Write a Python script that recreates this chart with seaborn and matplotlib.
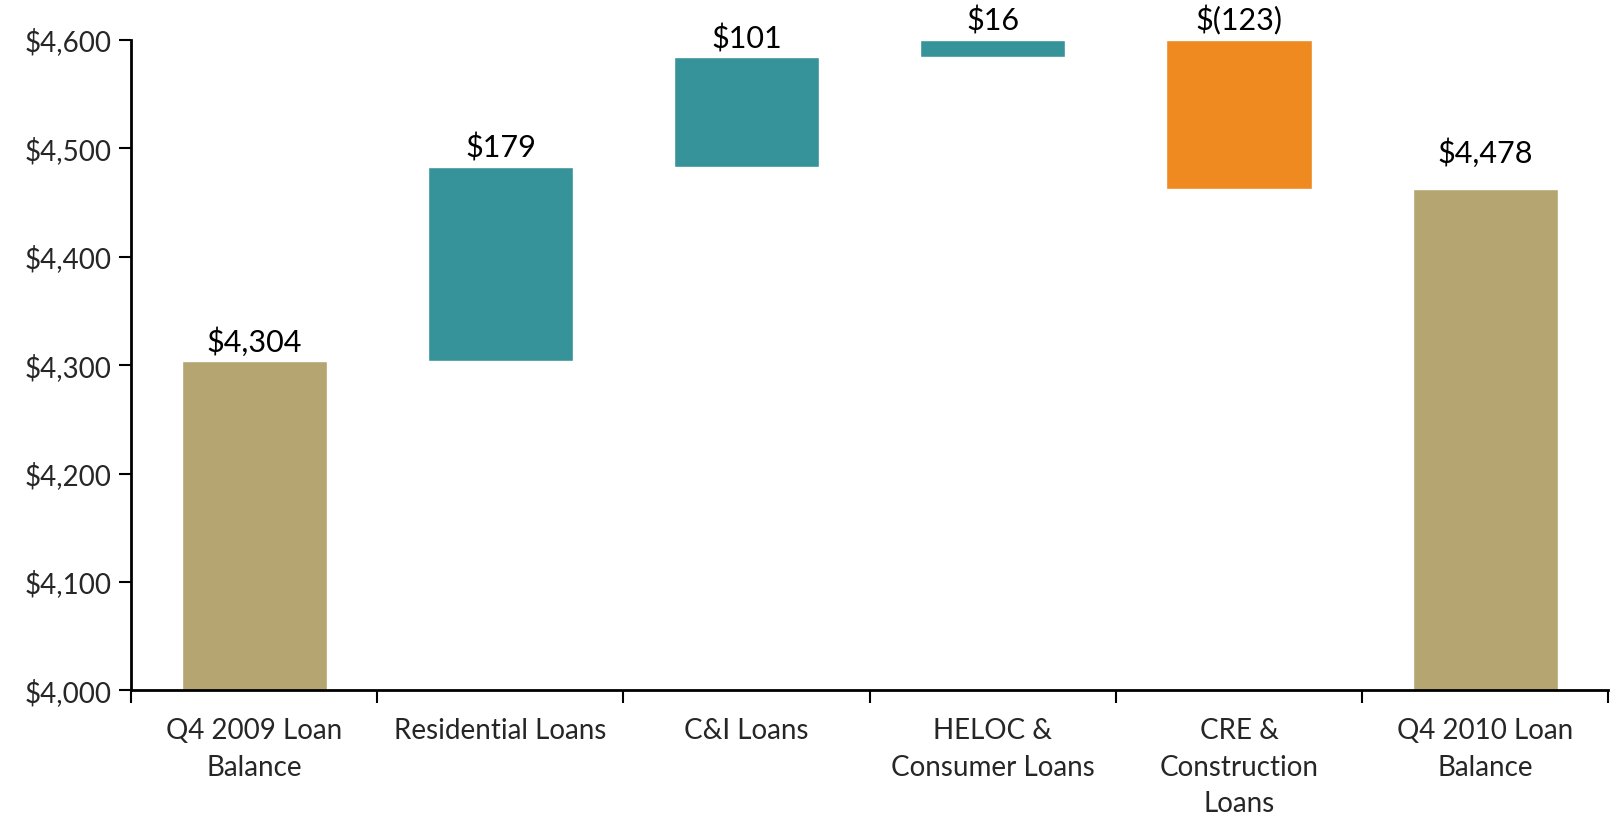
import matplotlib
matplotlib.use("Agg")
import matplotlib.pyplot as plt
import seaborn as sns
import numpy as np
import pandas as pd

categories = ["Q4 2009 Loan\nBalance", "Residential Loans", "C&I Loans",
              "HELOC &\nConsumer Loans", "CRE &\nConstruction\nLoans", "Q4 2010 Loan\nBalance"]
# bar extents as drawn in the picture (totals are absolute, others are changes)
drawn_values = [4304, 179, 101, 16, -137, 4463]
is_total = [True, False, False, False, False, True]
label_values = [4304, 179, 101, 16, -123, 4478]
value_labels = ["$4,304", "$179", "$101", "$16", "$(123)", "$4,478"]
y_ticks = [4000, 4100, 4200, 4300, 4400, 4500, 4600]
y_tick_labels = ["$4,000", "$4,100", "$4,200", "$4,300", "$4,400", "$4,500", "$4,600"]

TAN = "#B5A571"
TEAL = "#37939A"
ORANGE = "#EE8A1F"

# waterfall bases / tops
bases, tops = [], []
running = 0
for v, tot in zip(drawn_values, is_total):
    if tot:
        bases.append(0)
        tops.append(v)
        running = v
    else:
        start = running
        running = running + v
        bases.append(min(start, running))
        tops.append(max(start, running))

# label anchors: totals at their stated value, changes at the bar top
label_y = [lv if tot else t for lv, tot, t in zip(label_values, is_total, tops)]

colors = [TAN if t else (TEAL if v >= 0 else ORANGE) for v, t in zip(drawn_values, is_total)]

sns.set_theme(style="white")
plt.rcParams["font.family"] = ["Lato", "DejaVu Sans"]

df = pd.DataFrame({"cat": categories, "top": tops})

fig = plt.figure(figsize=(16.10, 8.17), dpi=100)
ax = fig.add_axes([0.0814, 0.155, 0.9176, 0.796])

sns.barplot(data=df, x="cat", y="top", hue="cat", palette=colors, legend=False,
            width=0.59, saturation=1, ax=ax)

# turn bars into floating waterfall segments
for patch, b, t in zip(ax.patches, bases, tops):
    patch.set_y(b)
    patch.set_height(t - b)

ax.set_ylim(4000, 4600)
ax.set_xlim(-0.5, 5.5)
ax.set_yticks(y_ticks)
ax.set_yticklabels(y_tick_labels, fontsize=20)

# major ticks at category boundaries, labels on minor ticks
ax.set_xticks(np.arange(-0.5, 6.0, 1.0))
ax.set_xticklabels([])
ax.set_xticks(np.arange(len(categories)), minor=True)
ax.set_xticklabels(categories, minor=True, fontsize=20, linespacing=1.5)
ax.tick_params(axis="x", which="minor", bottom=True, length=0, pad=20)
ax.tick_params(axis="x", which="major", bottom=True, direction="out", length=9, width=1.5, color="black")
ax.tick_params(axis="y", left=True, direction="out", length=9, width=1.5, color="black", pad=5)
ax.set_xlabel("")
ax.set_ylabel("")

for s in ["top", "right"]:
    ax.spines[s].set_visible(False)
for s in ["left", "bottom"]:
    ax.spines[s].set_color("black")
    ax.spines[s].set_linewidth(2)

for i, (lab, y) in enumerate(zip(value_labels, label_y)):
    ax.annotate(lab, xy=(i, y), xytext=(0, 3), textcoords="offset points",
                ha="center", va="bottom", fontsize=22, color="black",
                annotation_clip=False)

fig.savefig("out.png", dpi=100, facecolor="white")
